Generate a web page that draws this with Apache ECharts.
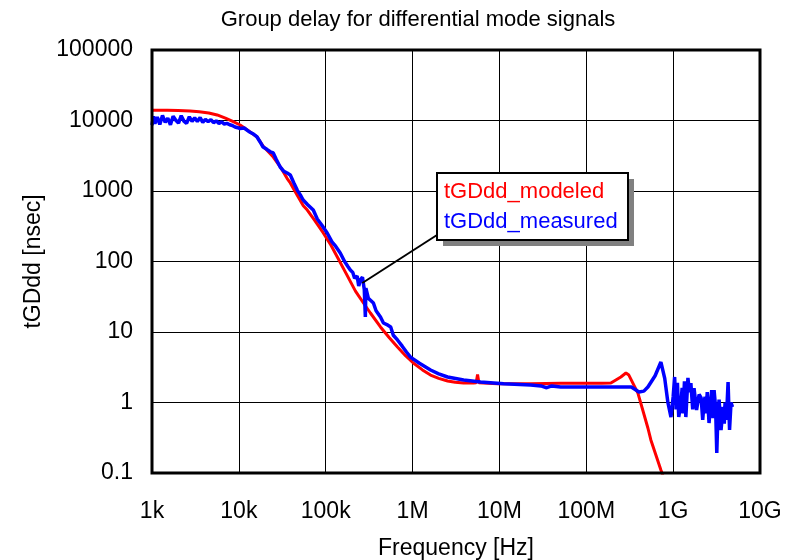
<!DOCTYPE html>
<html>
<head>
<meta charset="utf-8">
<script src="https://cdn.jsdelivr.net/npm/echarts@6/dist/echarts.min.js"></script>
<style>html,body{margin:0;padding:0;background:#fff}#c{width:794px;height:560px}</style>
</head>
<body>
<div id="c"></div>
<script>
const titleText = 'Group delay for differential mode signals';
const xAxisName = 'Frequency [Hz]';
const yAxisName = 'tGDdd [nsec]';
const xTickLabels = ['1k','10k','100k','1M','10M','100M','1G','10G'];
const yTickLabels = ['0.1','1','10','100','1000','10000','100000'];
const seriesNames = ['tGDdd_modeled','tGDdd_measured'];

const freqModeled = [1000,1500,2000,2740,3500,4500,5620,7000,8500,10350,13000,16250,19050,24900,30000,36000,39100,47000,55200,61400,75000,93800,115000,136000,177000,220000,272000,327000,427000,540000,670000,830000,1020000,1300000,1610000,2000000,2530000,3100000,3870000,5040000,5400000,5600000,5800000,9500000,22900000,50800000,150000000,192000000,250000000,286000000,309000000,393000000,512000000,554000000,723000000,780000000];
const valModeled  = [14000,14000,13900,13600,13300,12800,12000,10800,9700,8630,7100,5840,4300,3030,2200,1500,1300,870,620,537,380,254,170,116,63,38,25.8,18.6,11.8,8.3,6.12,4.6,3.63,2.9,2.45,2.2,2.02,1.94,1.89,1.89,1.9,2.5,1.9,1.85,1.85,1.87,1.87,1.89,2.30,2.62,2.45,1.36,0.435,0.294,0.11,0.085];

const freqMeasured = [1000,1040,1080,1150,1230,1320,1420,1520,1630,1750,1880,2020,2170,2330,2500,2690,2890,3100,3330,3580,3840,4120,4430,4760,5110,5490,5900,6330,6800,7300,7840,8420,9040,9710,10300,11500,13000,14500,16200,17500,19000,21000,23000,24900,27000,29900,33000,36000,39100,43000,47000,51000,55000,62000,71900,80000,90000,104000,118000,130000,147000,165000,180000,192000,205000,215000,230000,240000,251000,265000,278000,286000,290000,310000,330000,354000,380000,427000,462000,520000,560000,600000,670000,760000,850000,946000,1200000,1610000,2000000,2530000,3870000,6070000,11200000,22900000,30000000,35000000,40000000,50800000,120000000,200000000,271000000,330000000,404000000,460000000,512000000,620000000,723000000,800000000,870000000,944000000,1000000000,1040000000,1080000000,1120000000,1160000000,1230000000,1270000000,1300000000,1350000000,1400000000,1480000000,1540000000,1600000000,1680000000,1740000000,1860000000,1990000000,2100000000,2190000000,2270000000,2330000000,2390000000,2470000000,2590000000,2700000000,2780000000,2880000000,2960000000,3080000000,3180000000,3280000000,3380000000,3560000000,3760000000,3880000000,3960000000,4100000000,4290000000,4460000000,4640000000,4820000000,5030000000,5200000000,5300000000,5440000000,5580000000,5740000000,5900000000,6050000000];
const valMeasured  = [8600,11500,9000,11200,8800,11800,9400,10800,8700,11500,10100,9200,11700,9800,9100,11300,9700,10900,9700,11000,9400,10400,9600,10300,9300,9900,9100,9600,8900,9100,8700,8500,8100,7900,7700,7830,7000,6500,5840,5000,4210,3900,3600,3460,2800,2190,1900,1800,1690,1300,1030,880,745,640,537,400,330,254,190,165,132,100,85,75.7,70,58,62,45,55,60,40,16.3,42,30,28,25.8,20,16.3,13.4,12.5,11.8,9.0,7.71,6.3,5.2,4.41,3.6,2.89,2.55,2.30,2.08,1.95,1.85,1.77,1.72,1.62,1.72,1.66,1.66,1.66,1.66,1.66,1.41,1.45,1.66,2.4,3.75,2.2,1.0,0.622,1.2,2.30,0.8,1.9,0.622,1.0,1.61,0.7,2.0,0.622,2.23,1.4,1.89,0.8,1.6,0.783,1.3,1.16,0.565,1.0,1.20,0.7,1.4,0.512,1.0,1.5,0.6,1.50,0.863,0.192,0.7,1.1,0.407,0.863,0.5,1.0,0.565,1.95,0.407,1.0,0.863];

const annoAnchor = [264000, 49.5];

const FONT = 'Liberation Sans, Arial, sans-serif';
const chart = echarts.init(document.getElementById('c'), null, {renderer:'canvas'});

function pairs(xs, ys){ return xs.map((x,i)=>[x, ys[i]]); }
function expIndex(v){ return Math.round(Math.log10(v)); }

chart.setOption({
  animation: false,
  backgroundColor: '#fff',
  title: {
    text: titleText, left: 413, top: 4, textAlign: 'center',
    textStyle: {fontFamily: FONT, fontSize: 22, fontWeight: 'normal', color: '#000'}
  },
  grid: {left: 152, right: 34, top: 50, bottom: 87, containLabel: false, outerBoundsMode: 'none',
    show: true, borderColor: '#000', borderWidth: 3, backgroundColor: 'transparent', z: 10},
  xAxis: {
    type: 'log', logBase: 10, min: 1000, max: 1e10,
    name: xAxisName, nameLocation: 'middle', nameGap: 64,
    nameTextStyle: {fontFamily: FONT, fontSize: 23, color: '#000'},
    axisLine: {show: false}, axisTick: {show: false},
    axisLabel: {margin: 27, fontFamily: FONT, fontSize: 23, color: '#000',
      formatter: v => xTickLabels[expIndex(v) - 3]},
    splitLine: {show: true, lineStyle: {color: '#000', width: 1}},
    minorTick: {show: false}, minorSplitLine: {show: false}
  },
  yAxis: {
    type: 'log', logBase: 10, min: 0.1, max: 100000,
    name: yAxisName, nameLocation: 'middle', nameGap: 106, nameRotate: 90,
    nameTextStyle: {fontFamily: FONT, fontSize: 23, color: '#000'},
    axisLine: {show: false}, axisTick: {show: false},
    axisLabel: {margin: 19, fontFamily: FONT, fontSize: 23, color: '#000',
      formatter: v => yTickLabels[expIndex(v) + 1]},
    splitLine: {show: true, lineStyle: {color: '#000', width: 1}}
  },
  series: [
    {name: seriesNames[0], type: 'line', data: pairs(freqModeled, valModeled), showSymbol: false, symbol: 'none',
     lineStyle: {color: '#ff0000', width: 3}, itemStyle: {color: '#ff0000'}, z: 2},
    {name: seriesNames[1], type: 'line', data: pairs(freqMeasured, valMeasured), showSymbol: false, symbol: 'none',
     lineStyle: {color: '#0000ff', width: 3.5}, itemStyle: {color: '#0000ff'}, z: 3}
  ]
});

const anchorPx = chart.convertToPixel({gridIndex: 0}, annoAnchor);
const box = {x: 437, y: 173, w: 191, h: 67};
chart.setOption({
  graphic: [
    {type: 'line', z: 50, shape: {x1: box.x, y1: box.y + 62, x2: anchorPx[0], y2: anchorPx[1]}, style: {stroke: '#000', lineWidth: 2}},
    {type: 'rect', z: 50, shape: {x: box.x + 6, y: box.y + 6, width: box.w, height: box.h}, style: {fill: '#808080'}},
    {type: 'rect', z: 51, shape: {x: box.x, y: box.y, width: box.w, height: box.h}, style: {fill: '#fff', stroke: '#000', lineWidth: 2}},
    {type: 'text', z: 52, x: box.x + 7, y: box.y + 19, style: {text: seriesNames[0], fill: '#ff0000', font: '22px ' + FONT, textVerticalAlign: 'middle'}},
    {type: 'text', z: 52, x: box.x + 7, y: box.y + 49, style: {text: seriesNames[1], fill: '#0000ff', font: '22px ' + FONT, textVerticalAlign: 'middle'}}
  ]
});
</script>
</body>
</html>
